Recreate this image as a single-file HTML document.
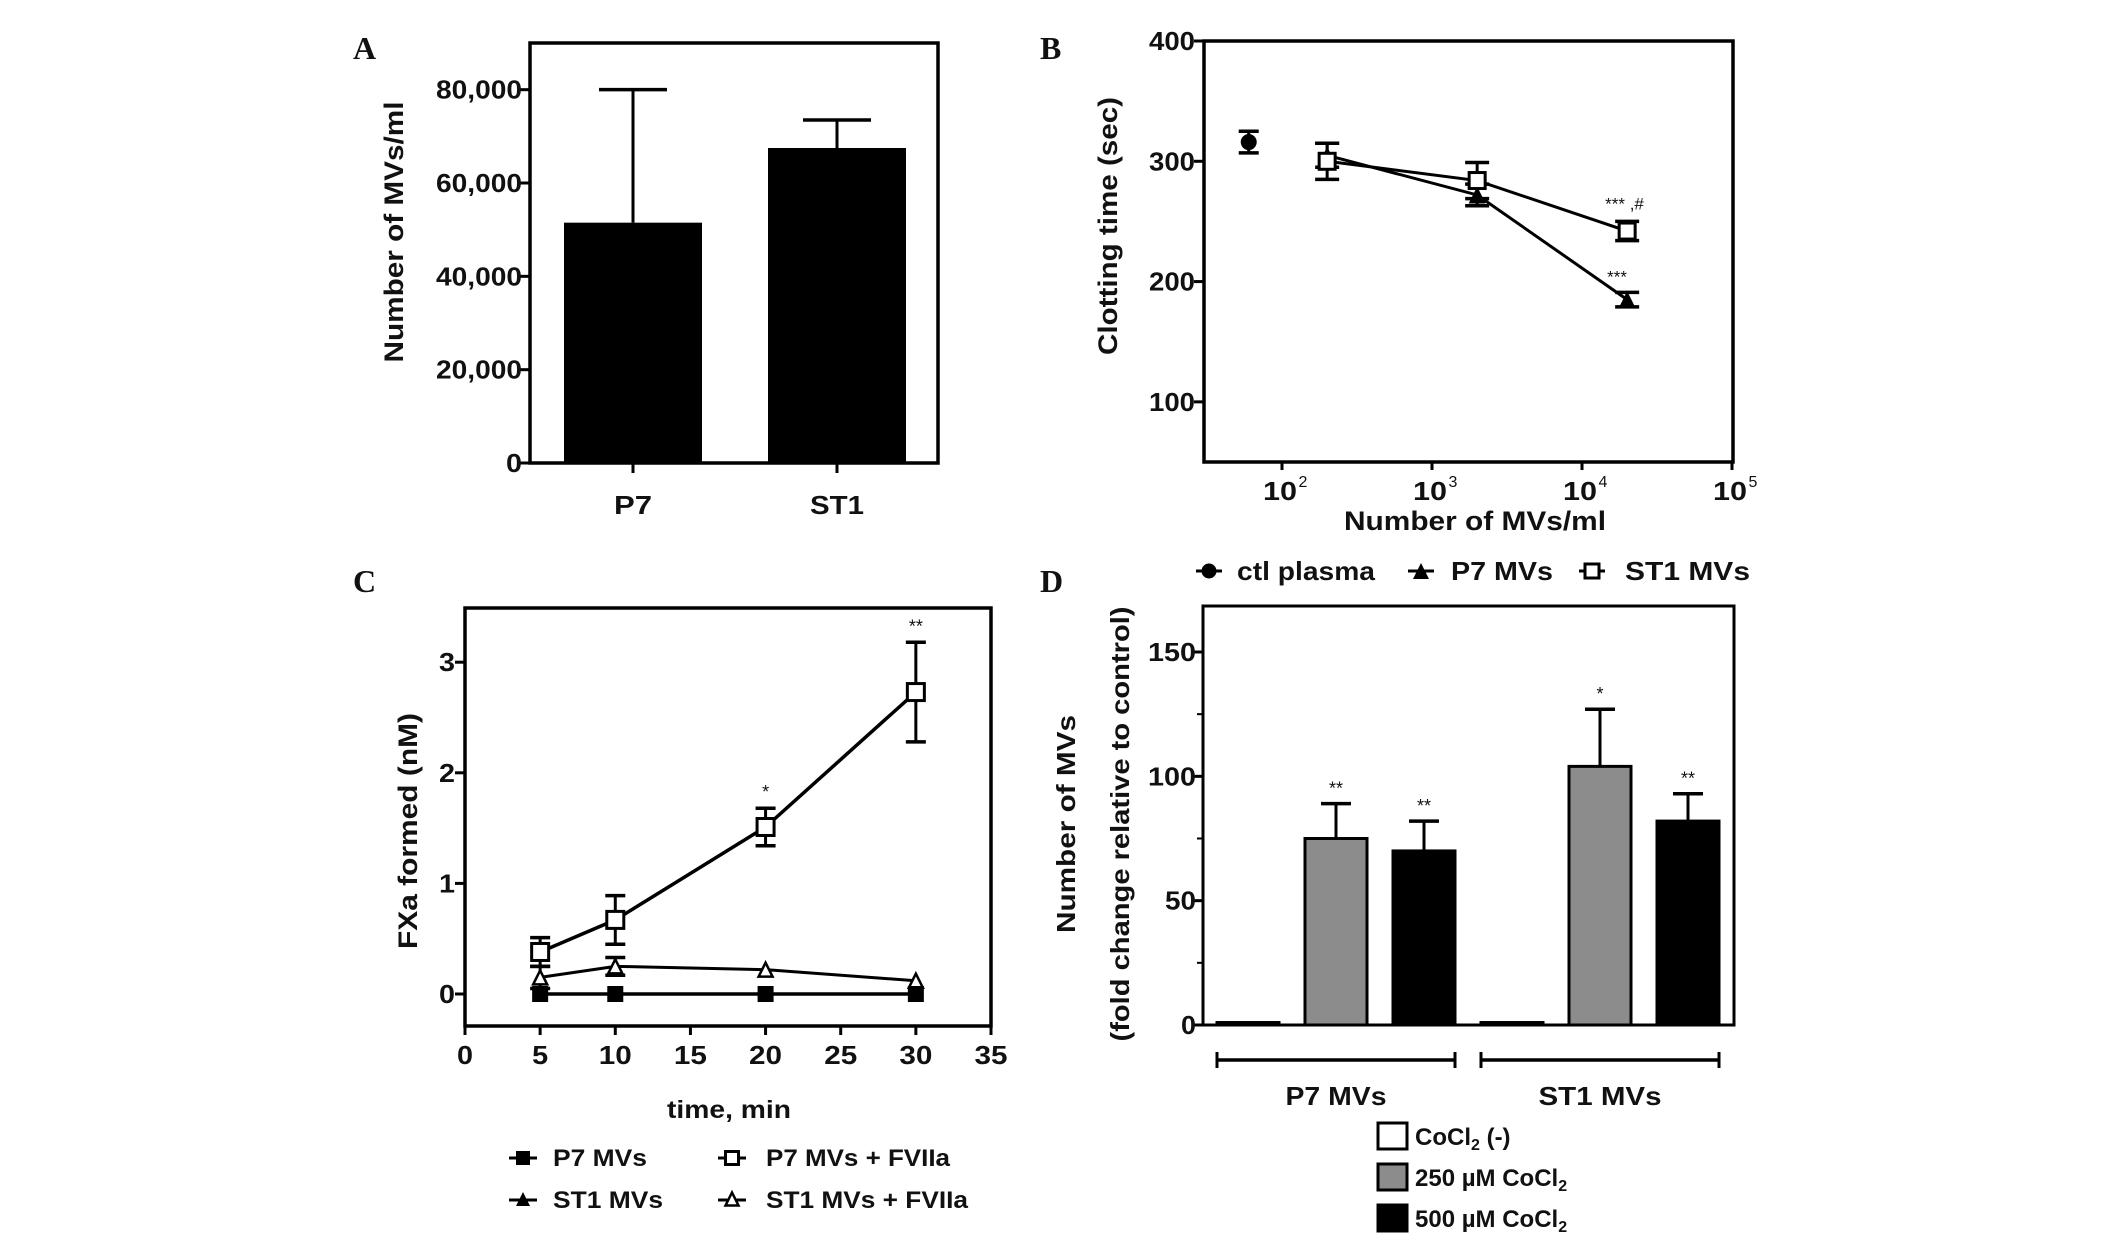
<!DOCTYPE html>
<html><head><meta charset="utf-8"><style>
html,body{margin:0;padding:0;background:#fff;overflow:hidden;}
svg{display:block;font-family:"Liberation Sans",Arial,sans-serif;}
</style></head><body>
<svg id="fig" width="2124" height="1240" viewBox="0 0 2124 1240" xmlns="http://www.w3.org/2000/svg"></svg>
<script>
// Panel A
const aCats = ['P7', 'ST1'];
const aVals = [51500, 67500];
const aErr = [80000, 73500];
const aTicks = [0, 20000, 40000, 60000, 80000];
const aTickLabels = ['0', '20,000', '40,000', '60,000', '80,000'];
// Panel B
const bX = [200, 2000, 20000];
const bCtlX = [60];
const bCtl = [316];
const bCtlErr = [9];
const bP7 = [305, 272, 185];
const bP7Err = [10, 9, 6];
const bST1 = [300, 284, 242];
const bST1Err = [15, 15, 8];
const bYTicks = [100, 200, 300, 400];
const bXTicks = [2, 3, 4, 5];
// Panel C
const cX = [5, 10, 20, 30];
const cP7 = [0, 0, 0, 0];
const cST1 = [0, 0, 0, 0];
const cP7F = [0.38, 0.67, 1.51, 2.73];
const cP7FErr = [0.13, 0.22, 0.17, 0.45];
const cST1F = [0.15, 0.25, 0.22, 0.12];
const cST1FErr = [0.1, 0.08, 0.02, 0.02];
const cXTicks = [0, 5, 10, 15, 20, 25, 30, 35];
const cYTicks = [0, 1, 2, 3];
// Panel D
const dGroups = ['P7 MVs', 'ST1 MVs'];
const dCtl = [1, 1];
const d250 = [75, 104];
const d250Err = [89, 127];
const d500 = [70, 82];
const d500Err = [82, 93];
const d250Stars = ['**', '*'];
const d500Stars = ['**', '**'];
const dYTicks = [0, 50, 100, 150];
const dMinor = [25, 75, 125];

const svg = document.getElementById('fig');
const NS = 'http://www.w3.org/2000/svg';
function mk(tag, attrs, name) {
  const el = document.createElementNS(NS, tag);
  for (const k in attrs) el.setAttribute(k, attrs[k]);
  
  
  svg.appendChild(el);
  return el;
}
function line(x1, y1, x2, y2, w, name) {
  return mk('line', {x1: x1, y1: y1, x2: x2, y2: y2, stroke: '#000', 'stroke-width': w}, name);
}
function txt(x, y, s, size, anchor, len, name, rot, weight, fam) {
  const a = {x: x, y: y, 'font-size': size, 'text-anchor': anchor || 'start', 'font-weight': weight || 'bold', fill: '#111'};
  if (len) { a.textLength = len; a.lengthAdjust = 'spacingAndGlyphs'; }
  if (rot) a.transform = 'rotate(-90 ' + x + ' ' + y + ')';
  if (fam) a['font-family'] = fam;
  const el = mk('text', a, name);
  el.textContent = s;
  return el;
}
function errBar(x, y1, y2, cap, name) {
  line(x, y1, x, y2, 3, name + '-stem');
  if (cap) {
    line(x - cap, y1, x + cap, y1, 3.5, name + '-cap');
    line(x - cap, y2, x + cap, y2, 3.5, name + '-cap');
  }
}
function marker(type, x, y, s, name) {
  if (type === 'circle') return mk('circle', {cx: x, cy: y, r: s / 2, fill: '#000'}, name);
  if (type === 'sqf') return mk('rect', {x: x - s / 2, y: y - s / 2, width: s, height: s, fill: '#000'}, name);
  if (type === 'sqo') return mk('rect', {x: x - s / 2, y: y - s / 2, width: s, height: s, fill: '#fff', stroke: '#000', 'stroke-width': 3}, name);
  if (type === 'trif') return mk('polygon', {points: (x - s / 2) + ',' + (y + s / 2) + ' ' + x + ',' + (y - s / 2) + ' ' + (x + s / 2) + ',' + (y + s / 2), fill: '#000'}, name);
  if (type === 'trio') return mk('polygon', {points: (x - s / 2) + ',' + (y + s / 2) + ' ' + x + ',' + (y - s / 2) + ' ' + (x + s / 2) + ',' + (y + s / 2), fill: '#fff', stroke: '#000', 'stroke-width': 2.5}, name);
}
function polyline(xs, ys, fx, fy, w, name) {
  return mk('polyline', {points: xs.map((v, i) => fx(v) + ',' + fy(ys[i])).join(' '), fill: 'none', stroke: '#000', 'stroke-width': w}, name);
}
const serif = '"Liberation Serif", serif';

// ===== Panel A =====
txt(353, 59, 'A', 32, 'start', null, 'panel-a-label', false, 'bold', serif);
const aL = 530, aR = 938, aT = 43, aB = 463;
const yA = v => aB - v * (aB - aT) / 90000;
const xA = i => [633, 837][i];
aCats.forEach((c, i) => {
  const x = xA(i);
  errBar(x, yA(aErr[i]), yA(aVals[i]), 0, 'a-error-' + c);
  line(x - 34, yA(aErr[i]), x + 34, yA(aErr[i]), 3.5, 'a-error-cap-' + c);
  mk('rect', {x: x - 69, y: yA(aVals[i]), width: 138, height: aB - yA(aVals[i]), fill: '#000'}, 'a-bar-' + c);
  line(x, aB, x, aB + 10, 3, 'a-x-tick');
  txt(x, 514, c, 26, 'middle', c.length === 2 ? 38 : 54, 'a-x-label-' + c);
});
mk('rect', {x: aL, y: aT, width: aR - aL, height: aB - aT, fill: 'none', stroke: '#000', 'stroke-width': 3.5}, 'a-plot-frame');
aTicks.forEach((t, i) => {
  line(aL - 10, yA(t), aL, yA(t), 3, 'a-y-tick');
  txt(522, yA(t) + 9, aTickLabels[i], 26, 'end', i === 0 ? 16 : 86, 'a-y-tick-label');
});
txt(403, 232, 'Number of MVs/ml', 27, 'middle', 261, 'a-y-axis-title', true);

// ===== Panel B =====
txt(1040, 59, 'B', 32, 'start', null, 'panel-b-label', false, 'bold', serif);
const bL = 1204, bR = 1733, bT = 41, bB = 462;
const yB = v => bB - (v - 50) * (bB - bT) / 350;
const xB = v => 1282 + (Math.log10(v) - 2) * 150;
mk('rect', {x: bL, y: bT, width: bR - bL, height: bB - bT, fill: 'none', stroke: '#000', 'stroke-width': 3.5}, 'b-plot-frame');
bYTicks.forEach(t => {
  line(bL - 10, yB(t), bL, yB(t), 3, 'b-y-tick');
  txt(1195, yB(t) + 9, String(t), 26, 'end', 46, 'b-y-tick-label');
});
bXTicks.forEach(e => {
  const x = 1282 + (e - 2) * 150;
  line(x, bB, x, bB + 8, 3, 'b-x-tick');
  txt(x - 2, 500, '10', 26, 'middle', 34, 'b-x-tick-label');
  txt(x + 21, 487, String(e), 16, 'middle', null, 'b-x-tick-exponent', false, 'normal');
});
polyline(bX, bP7, xB, yB, 3, 'b-line-p7');
polyline(bX, bST1, xB, yB, 3, 'b-line-st1');
bCtlX.forEach((x, i) => {
  errBar(xB(x), yB(bCtl[i] + bCtlErr[i]), yB(bCtl[i] - bCtlErr[i]), 10, 'b-ctl-error');
  marker('circle', xB(x), yB(bCtl[i]), 16, 'b-point-ctl-plasma');
});
bX.forEach((x, i) => {
  errBar(xB(x), yB(bP7[i] + bP7Err[i]), yB(bP7[i] - bP7Err[i]), 12, 'b-p7-error');
  marker('trif', xB(x), yB(bP7[i]), 17, 'b-point-p7');
  errBar(xB(x), yB(bST1[i] + bST1Err[i]), yB(bST1[i] - bST1Err[i]), 12, 'b-st1-error');
  marker('sqo', xB(x), yB(bST1[i]), 16, 'b-point-st1');
});
txt(xB(bX[2]) - 22, yB(bST1[2] + bST1Err[2]) - 12, '*** ,#', 17, 'start', null, 'b-annotation-st1', false, 'normal');
txt(xB(bX[2]) - 20, yB(bP7[2] + bP7Err[2]) - 10, '***', 17, 'start', null, 'b-annotation-p7', false, 'normal');
txt(1475, 530, 'Number of MVs/ml', 27, 'middle', 262, 'b-x-axis-title');
txt(1117, 226, 'Clotting time (sec)', 27, 'middle', 258, 'b-y-axis-title', true);
// legend B
line(1196, 571, 1222, 571, 3, 'b-legend-line');
marker('circle', 1209, 571, 15, 'b-legend-marker-ctl');
txt(1237, 580, 'ctl plasma', 26, 'start', 138, 'b-legend-ctl-plasma');
line(1408, 571, 1434, 571, 3, 'b-legend-line');
marker('trif', 1421, 571, 16, 'b-legend-marker-p7');
txt(1451, 580, 'P7 MVs', 26, 'start', 102, 'b-legend-p7');
line(1579, 571, 1605, 571, 3, 'b-legend-line');
marker('sqo', 1592, 571, 14, 'b-legend-marker-st1');
txt(1625, 580, 'ST1 MVs', 26, 'start', 125, 'b-legend-st1');

// ===== Panel C =====
txt(353, 592, 'C', 32, 'start', null, 'panel-c-label', false, 'bold', serif);
const cL = 465, cR = 991, cT = 608, cB = 1026;
const xC = v => cL + v * (cR - cL) / 35;
const yC = v => 994 - v * 110.6;
mk('rect', {x: cL, y: cT, width: cR - cL, height: cB - cT, fill: 'none', stroke: '#000', 'stroke-width': 3.5}, 'c-plot-frame');
cXTicks.forEach(t => {
  line(xC(t), cB, xC(t), cB + 9, 3, 'c-x-tick');
  txt(xC(t), 1064, String(t), 26, 'middle', t < 10 ? 16 : 33, 'c-x-tick-label');
});
cYTicks.forEach(t => {
  line(cL - 10, yC(t), cL, yC(t), 3, 'c-y-tick');
  txt(455, yC(t) + 9, String(t), 26, 'end', 16, 'c-y-tick-label');
});
polyline(cX, cP7F, xC, yC, 3.5, 'c-line-p7-fviia');
polyline(cX, cST1F, xC, yC, 3, 'c-line-st1-fviia');
polyline(cX, cP7, xC, yC, 3.5, 'c-line-p7');
cX.forEach((x, i) => {
  errBar(xC(x), yC(cP7F[i] + cP7FErr[i]), yC(cP7F[i] - cP7FErr[i]), 10, 'c-p7-fviia-error');
  marker('sqo', xC(x), yC(cP7F[i]), 17, 'c-point-p7-fviia');
  if (cST1FErr[i] > 0.03) errBar(xC(x), yC(cST1F[i] + cST1FErr[i]), yC(cST1F[i] - cST1FErr[i]), 10, 'c-st1-fviia-error');
  marker('trio', xC(x), yC(cST1F[i]), 14, 'c-point-st1-fviia');
  marker('trif', xC(x), yC(cST1[i]), 13, 'c-point-st1');
  marker('sqf', xC(x), yC(cP7[i]), 16, 'c-point-p7');
});
txt(xC(20), yC(cP7F[2] + cP7FErr[2]) - 10, '*', 18, 'middle', null, 'c-annotation-20', false, 'normal');
txt(xC(30), yC(cP7F[3] + cP7FErr[3]) - 10, '**', 18, 'middle', null, 'c-annotation-30', false, 'normal');
txt(729, 1118, 'time, min', 25, 'middle', 124, 'c-x-axis-title');
txt(417, 831, 'FXa formed (nM)', 27, 'middle', 236, 'c-y-axis-title', true);
// legend C
line(509, 1158, 537, 1158, 3, 'c-legend-line');
marker('sqf', 523, 1158, 14, 'c-legend-marker-p7');
txt(553, 1166, 'P7 MVs', 24, 'start', 94, 'c-legend-p7');
line(718, 1158, 746, 1158, 3, 'c-legend-line');
marker('sqo', 732, 1158, 13, 'c-legend-marker-p7-fviia');
txt(766, 1166, 'P7 MVs + FVIIa', 24, 'start', 184, 'c-legend-p7-fviia');
line(509, 1200, 537, 1200, 3, 'c-legend-line');
marker('trif', 523, 1199, 14, 'c-legend-marker-st1');
txt(553, 1208, 'ST1 MVs', 24, 'start', 110, 'c-legend-st1');
line(718, 1200, 746, 1200, 3, 'c-legend-line');
marker('trio', 732, 1199, 13, 'c-legend-marker-st1-fviia');
txt(766, 1208, 'ST1 MVs + FVIIa', 24, 'start', 202, 'c-legend-st1-fviia');

// ===== Panel D =====
txt(1040, 592, 'D', 32, 'start', null, 'panel-d-label', false, 'bold', serif);
const dL = 1203, dR = 1734, dT = 606, dB = 1025;
const yD = v => dB - v * 373 / 150;
const gStart = [1217, 1481];
const bw = 62, step = 88;
dGroups.forEach((g, gi) => {
  const x0 = gStart[gi];
  mk('rect', {x: x0, y: yD(dCtl[gi]), width: bw, height: dB - yD(dCtl[gi]), fill: '#fff', stroke: '#000', 'stroke-width': 3}, 'd-bar-ctl-' + gi);
  const x1 = x0 + step, x2 = x0 + 2 * step;
  line(x1 + bw / 2, yD(d250Err[gi]), x1 + bw / 2, yD(d250[gi]), 3, 'd-error-250');
  line(x1 + bw / 2 - 15, yD(d250Err[gi]), x1 + bw / 2 + 15, yD(d250Err[gi]), 3.5, 'd-error-cap-250');
  mk('rect', {x: x1, y: yD(d250[gi]), width: bw, height: dB - yD(d250[gi]), fill: '#8c8c8c', stroke: '#000', 'stroke-width': 3}, 'd-bar-250-' + gi);
  line(x2 + bw / 2, yD(d500Err[gi]), x2 + bw / 2, yD(d500[gi]), 3, 'd-error-500');
  line(x2 + bw / 2 - 15, yD(d500Err[gi]), x2 + bw / 2 + 15, yD(d500Err[gi]), 3.5, 'd-error-cap-500');
  mk('rect', {x: x2, y: yD(d500[gi]), width: bw, height: dB - yD(d500[gi]), fill: '#000', stroke: '#000', 'stroke-width': 3}, 'd-bar-500-' + gi);
  txt(x1 + bw / 2, yD(d250Err[gi]) - 9, d250Stars[gi], 18, 'middle', null, 'd-annotation-250', false, 'normal');
  txt(x2 + bw / 2, yD(d500Err[gi]) - 9, d500Stars[gi], 18, 'middle', null, 'd-annotation-500', false, 'normal');
  const bx1 = x0, bx2 = x2 + bw;
  line(bx1, 1060, bx2, 1060, 3.5, 'd-group-bracket');
  line(bx1, 1052, bx1, 1068, 3, 'd-group-bracket-end');
  line(bx2, 1052, bx2, 1068, 3, 'd-group-bracket-end');
  txt((bx1 + bx2) / 2, 1105, g, 26, 'middle', gi === 0 ? 101 : 123, 'd-group-label-' + gi);
});
mk('path', {d: 'M' + dL + ' ' + dT + ' H' + dR + ' V' + dB + ' H' + dL + ' Z', fill: 'none', stroke: '#000', 'stroke-width': 3}, 'd-plot-frame');
dYTicks.forEach(t => {
  line(dL - 10, yD(t), dL, yD(t), 3, 'd-y-tick');
  txt(1196, yD(t) + 9, String(t), 26, 'end', t === 0 ? 15 : (t < 100 ? 31 : 48), 'd-y-tick-label');
});
dMinor.forEach(t => { line(dL - 6, yD(t), dL, yD(t), 2, 'd-y-minor-tick'); });
txt(1075, 824, 'Number of MVs', 26, 'middle', 218, 'd-y-axis-title-line1', true);
txt(1129, 824, '(fold change relative to control)', 26, 'middle', 435, 'd-y-axis-title-line2', true);
// legend D
const legFill = ['#fff', '#8c8c8c', '#000'];
const legY = [1136, 1177, 1218];
legY.forEach((y, i) => {
  mk('rect', {x: 1378, y: y - 13, width: 29, height: 26, fill: legFill[i], stroke: '#000', 'stroke-width': 3}, 'd-legend-swatch');
});
const l1 = txt(1415, 1145, 'CoCl', 24, 'start', null, 'd-legend-ctl');
const t1 = mk('tspan', {'font-size': 16, dy: 5}, 'subscript'); t1.textContent = '2'; l1.appendChild(t1);
const t1b = mk('tspan', {dy: -5}, 'legend-rest'); t1b.textContent = ' (-)'; l1.appendChild(t1b);
const l2 = txt(1415, 1186, '250 \u00b5M CoCl', 24, 'start', null, 'd-legend-250');
const t2 = mk('tspan', {'font-size': 16, dy: 5}, 'subscript'); t2.textContent = '2'; l2.appendChild(t2);
const l3 = txt(1415, 1227, '500 \u00b5M CoCl', 24, 'start', null, 'd-legend-500');
const t3 = mk('tspan', {'font-size': 16, dy: 5}, 'subscript'); t3.textContent = '2'; l3.appendChild(t3);
</script>
</body></html>
